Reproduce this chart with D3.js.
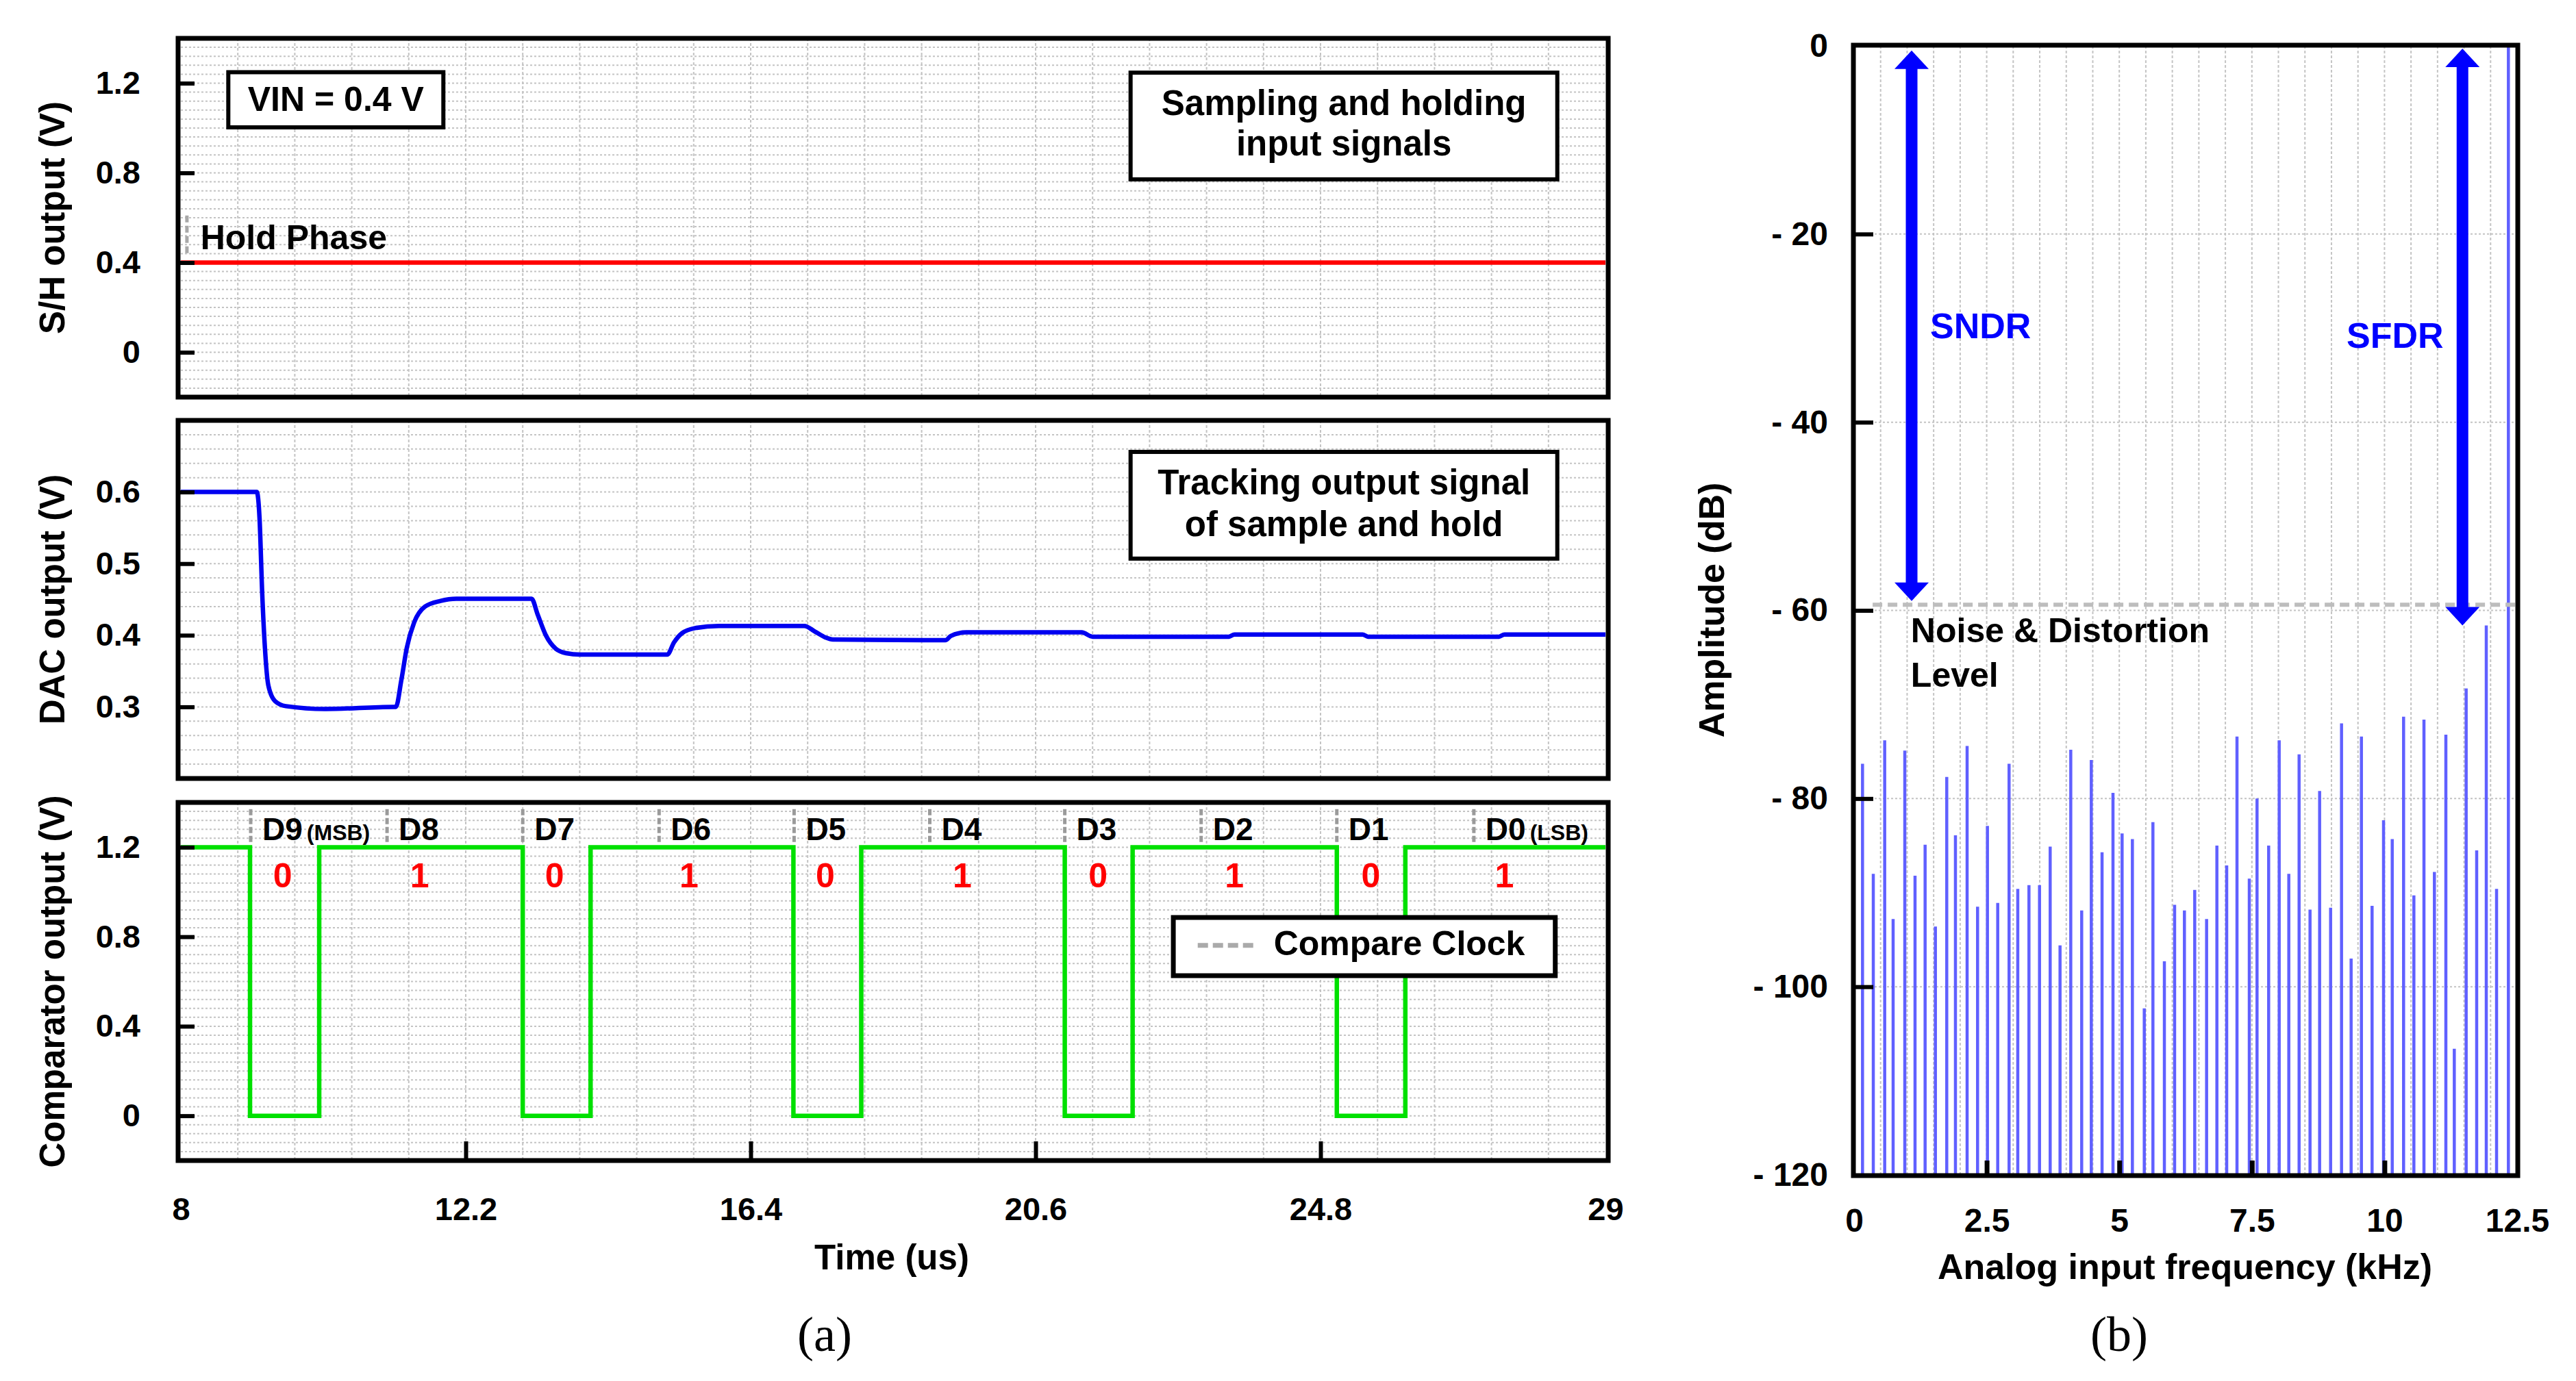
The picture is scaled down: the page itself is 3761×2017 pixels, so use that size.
<!DOCTYPE html>
<html>
<head>
<meta charset="utf-8">
<script src="https://cdn.jsdelivr.net/npm/d3@7"></script>
<style>
  html, body { margin: 0; padding: 0; background: #fff; }
  svg { display: block; }
  text { font-family: 'Liberation Sans', Arial, Helvetica, sans-serif; font-weight: bold; }
</style>
</head>
<body>
<svg id="chart"></svg>
<script>
// ---- data ----
const timeTicks = [8, 12.2, 16.4, 20.6, 24.8, 29]
const shTicks = [0, 0.4, 0.8, 1.2]
const dacTicks = [0.3, 0.4, 0.5, 0.6]
const compTicks = [0, 0.4, 0.8, 1.2]

const shTime = [8, 29]
const shVolt = [0.4, 0.4]

const dacTime = [8, 9.12, 9.16, 9.20, 9.24, 9.29, 9.39, 9.55, 10.13, 11.13,
  11.17, 11.25, 11.33, 11.44, 11.60, 11.83, 12.06, 13.17, 13.26, 13.38,
  13.53, 13.68, 13.88, 15.17, 15.27, 15.39, 15.58, 15.93, 17.19, 17.35,
  17.50, 17.61, 19.27, 19.35, 19.58, 21.28, 21.44, 23.45, 23.53, 25.42,
  25.50, 27.43, 27.51, 29]
const dacVolt = [0.6, 0.6, 0.564, 0.458, 0.382, 0.330, 0.308, 0.301, 0.297, 0.300,
  0.300, 0.337, 0.382, 0.418, 0.440, 0.448, 0.451, 0.451, 0.429, 0.400,
  0.381, 0.375, 0.373, 0.373, 0.390, 0.403, 0.410, 0.413, 0.413, 0.405,
  0.397, 0.394, 0.393, 0.399, 0.404, 0.404, 0.398, 0.398, 0.401, 0.401,
  0.398, 0.398, 0.401, 0.401]

const compTime = [8, 9.02, 10.04, 13.04, 14.04, 17.03, 18.03, 21.03, 22.03, 25.04, 26.05, 29]
const compVolt = [1.2, 0, 1.2, 0, 1.2, 0, 1.2, 0, 1.2, 0, 1.2, 1.2]

const bitNames = ['D9', 'D8', 'D7', 'D6', 'D5', 'D4', 'D3', 'D2', 'D1', 'D0']
const bitNotes = ['(MSB)', '', '', '', '', '', '', '', '', '(LSB)']
const bitMarkTime = [9.03, 11.04, 13.04, 15.05, 17.04, 19.04, 21.03, 23.04, 25.04, 27.06]
const bitValues = [0, 1, 0, 1, 0, 1, 0, 1, 0, 1]
const bitValueTime = [9.5, 11.52, 13.51, 15.49, 17.5, 19.52, 21.52, 23.53, 25.54, 27.51]

const freqTicks = [0, 2.5, 5, 7.5, 10, 12.5]
const ampTicks = [0, -20, -40, -60, -80, -100, -120]

const fftFreq = [0.159, 0.362, 0.577, 0.736, 0.956, 1.149, 1.339, 1.533, 1.747, 1.911,
  2.131, 2.328, 2.514, 2.708, 2.922, 3.086, 3.297, 3.496, 3.697, 3.883,
  4.085, 4.291, 4.472, 4.675, 4.881, 5.053, 5.247, 5.471, 5.634, 5.850,
  6.043, 6.228, 6.422, 6.646, 6.840, 7.025, 7.219, 7.451, 7.597, 7.816,
  8.015, 8.196, 8.390, 8.596, 8.777, 8.984, 9.190, 9.371, 9.565, 9.766,
  9.982, 10.146, 10.360, 10.554, 10.744, 10.941, 11.157, 11.316, 11.540, 11.738,
  11.919, 12.113, 12.336]
const fftAmp = [-76.3, -88.0, -73.8, -92.8, -74.9, -88.2, -84.9, -93.6, -77.7, -83.9,
  -74.4, -91.5, -82.9, -91.1, -76.3, -89.6, -89.2, -89.2, -85.1, -95.6,
  -74.8, -91.9, -75.9, -85.7, -79.4, -83.7, -84.3, -102.3, -82.5, -97.3,
  -91.3, -91.9, -89.7, -92.8, -85.0, -87.1, -73.4, -88.5, -80.0, -85.0,
  -73.8, -88.0, -75.3, -91.8, -79.2, -91.6, -72.0, -97.0, -73.4, -91.4,
  -82.3, -84.3, -71.3, -90.3, -71.6, -87.8, -73.2, -106.6, -68.3, -85.5,
  -61.6, -89.6, 0]

const noiseLevel = -59.4
const sndrArrow = { f: 1.085, top: -0.5, bottom: -59.0 }
const sfdrArrow = { f: 11.47, top: -0.3, bottom: -61.6 }

// ---- setup ----
const svg = d3.select('#chart').attr('width', 3761).attr('height', 2017)
svg.append('rect').attr('width', 3761).attr('height', 2017).attr('fill', '#fff')

const gridColor = '#c4c4c4'
const x = d3.scaleLinear().domain([8, 29]).range([264, 2344])

const panels = [
  { key: 'sh', domain: [-0.2, 1.4], range: [580, 56], ticks: shTicks, step: 0.04, title: 'S/H output (V)' },
  { key: 'dac', domain: [0.2, 0.7], range: [1137, 614], ticks: dacTicks, step: 0.02, title: 'DAC output (V)' },
  { key: 'comp', domain: [-0.2, 1.4], range: [1695, 1172], ticks: compTicks, step: 0.04, title: 'Comparator output (V)' },
]
panels.forEach(p => { p.y = d3.scaleLinear().domain(p.domain).range(p.range) })

const fmtV = d => d === 0 ? '0' : d3.format('.1f')(d)

const drawGrid = (g, xs, ys, x0, x1, y0, y1) => {
  g.selectAll('line.vg').data(xs).enter().append('line')
    .attr('class', 'vg')
    .attr('x1', d => d).attr('x2', d => d).attr('y1', y0).attr('y2', y1)
    .attr('stroke', gridColor).attr('stroke-width', 2).attr('stroke-dasharray', '4,3')
  g.selectAll('line.hg').data(ys).enter().append('line')
    .attr('class', 'hg')
    .attr('y1', d => d).attr('y2', d => d).attr('x1', x0).attr('x2', x1)
    .attr('stroke', gridColor).attr('stroke-width', 2).attr('stroke-dasharray', '3,3')
}

panels.forEach(p => {
  const g = svg.append('g').attr('class', `panel-${p.key}`)
  const vx = d3.range(8.84, 28.99, 0.84).map(x)
  const hy = d3.range(p.domain[0] + p.step, p.domain[1] - 1e-6, p.step).map(p.y)
  drawGrid(g, vx, hy, x(8), x(29), p.range[1], p.range[0])
  p.g = g
})

const [shP, dacP, compP] = panels

// S/H output
shP.g.append('path')
  .attr('d', d3.line().x((d, i) => x(shTime[i])).y(d => shP.y(d))(shVolt))
  .attr('fill', 'none').attr('stroke', '#ff0000').attr('stroke-width', 6.5)

// DAC output
dacP.g.append('path')
  .attr('d', d3.line().curve(d3.curveMonotoneX).x((d, i) => x(dacTime[i])).y(d => dacP.y(d))(dacVolt))
  .attr('fill', 'none').attr('stroke', '#0000f0').attr('stroke-width', 6.5).attr('stroke-linejoin', 'round')

// comparator output
compP.g.append('path')
  .attr('d', d3.line().curve(d3.curveStepAfter).x((d, i) => x(compTime[i])).y(d => compP.y(d))(compVolt))
  .attr('fill', 'none').attr('stroke', '#00e000').attr('stroke-width', 6.5)

// bit markers + labels
const bits = compP.g.append('g').attr('class', 'bits')
bits.selectAll('line').data(bitMarkTime).enter().append('line')
  .attr('x1', d => x(d)).attr('x2', d => x(d))
  .attr('y1', compP.y(1.37)).attr('y2', compP.y(1.22))
  .attr('stroke', '#9a9a9a').attr('stroke-width', 5).attr('stroke-dasharray', '9,4')
const bitLabel = bits.selectAll('text.bn').data(bitNames).enter().append('text')
  .attr('class', 'bn')
  .attr('x', (d, i) => x(bitMarkTime[i]) + 17)
  .attr('y', compP.y(1.232))
  .attr('font-size', 46)
  .text(d => d)
bitLabel.append('tspan')
  .attr('font-size', 32).attr('dx', 6)
  .text((d, i) => bitNotes[i])
bits.selectAll('text.bv').data(bitValues).enter().append('text')
  .attr('class', 'bv')
  .attr('x', (d, i) => x(bitValueTime[i]))
  .attr('y', compP.y(1.02))
  .attr('text-anchor', 'middle')
  .attr('font-size', 50).attr('fill', '#ff0000')
  .text(d => d)

// annotation boxes
const box = (g, p, t0, t1, v0, v1, lines, baselines, size) => {
  g.append('rect')
    .attr('x', x(t0)).attr('y', p.y(v0))
    .attr('width', x(t1) - x(t0)).attr('height', p.y(v1) - p.y(v0))
    .attr('fill', '#fff').attr('stroke', '#000').attr('stroke-width', 6)
  lines.forEach((l, i) => {
    g.append('text')
      .attr('x', x((t0 + t1) / 2)).attr('y', p.y(baselines[i]))
      .attr('text-anchor', 'middle').attr('font-size', size)
      .text(l)
  })
}
box(shP.g, shP, 8.70, 11.87, 1.249, 1.003, ['VIN = 0.4 V'], [1.076], 50)
box(shP.g, shP, 22.0, 28.29, 1.247, 0.771, ['Sampling and holding', 'input signals'], [1.059, 0.878], 51)
box(dacP.g, dacP, 22.0, 28.29, 0.656, 0.507, ['Tracking output signal', 'of sample and hold'], [0.597, 0.538], 51)

// hold phase
shP.g.append('line')
  .attr('x1', x(8.09)).attr('x2', x(8.09))
  .attr('y1', shP.y(0.61)).attr('y2', shP.y(0.43))
  .attr('stroke', '#a8a8a8').attr('stroke-width', 5).attr('stroke-dasharray', '10,5')
shP.g.append('text')
  .attr('x', x(8.29)).attr('y', shP.y(0.46))
  .attr('font-size', 50)
  .text('Hold Phase')

// compare clock legend
const leg = compP.g.append('g').attr('class', 'legend')
leg.append('rect')
  .attr('x', x(22.63)).attr('y', compP.y(0.886))
  .attr('width', x(28.26) - x(22.63)).attr('height', compP.y(0.626) - compP.y(0.886))
  .attr('fill', '#fff').attr('stroke', '#000').attr('stroke-width', 7)
leg.append('line')
  .attr('x1', x(22.99)).attr('x2', x(23.87))
  .attr('y1', compP.y(0.761)).attr('y2', compP.y(0.761))
  .attr('stroke', '#aaaaaa').attr('stroke-width', 7).attr('stroke-dasharray', '15,7')
leg.append('text')
  .attr('x', x(24.11)).attr('y', compP.y(0.718))
  .attr('font-size', 50)
  .text('Compare Clock')

// frames, y axes, titles
panels.forEach(p => {
  p.g.append('rect')
    .attr('x', 260).attr('y', p.range[1])
    .attr('width', 2348 - 260).attr('height', p.range[0] - p.range[1])
    .attr('fill', 'none').attr('stroke', '#000').attr('stroke-width', 7)

  const ax = p.g.append('g')
    .attr('transform', 'translate(260,0)')
    .call(d3.axisLeft(p.y).tickValues(p.ticks).tickFormat(fmtV).tickSize(-24).tickPadding(55))
  ax.select('.domain').remove()
  ax.selectAll('.tick line').attr('stroke', '#000').attr('stroke-width', 6)
  ax.selectAll('.tick text')
    .attr('font-family', null).attr('font-size', 47).attr('fill', '#000')

  p.g.append('text')
    .attr('transform', `translate(94,${(p.range[0] + p.range[1]) / 2}) rotate(-90)`)
    .attr('text-anchor', 'middle').attr('font-size', 51)
    .text(p.title)
})

// shared time axis
const tAx = svg.append('g')
  .attr('transform', `translate(0,${compP.range[0]})`)
  .call(d3.axisBottom(x).tickValues(timeTicks).tickFormat(d => d).tickSize(-28).tickPadding(54))
tAx.select('.domain').remove()
tAx.selectAll('.tick line').attr('stroke', '#000').attr('stroke-width', 6)
tAx.selectAll('.tick')
  .filter(d => d === 8 || d === 29)
  .select('line').remove()
tAx.selectAll('.tick text').attr('font-family', null).attr('font-size', 47).attr('fill', '#000')

svg.append('text')
  .attr('x', 1302).attr('y', 1854)
  .attr('text-anchor', 'middle').attr('font-size', 51)
  .text('Time (us)')

// ---- panel (b) ----
const xf = d3.scaleLinear().domain([0, 12.5]).range([2707, 3675])
const yf = d3.scaleLinear().domain([-120, 0]).range([1716, 67])
const gb = svg.append('g').attr('class', 'panel-fft')

drawGrid(gb, d3.range(0.5, 12.49, 0.5).map(xf), [-20, -40, -60, -80, -100].map(yf), xf(0), xf(12.5), yf(0), yf(-120))

gb.append('g').attr('class', 'bars')
  .selectAll('line').data(fftAmp).enter().append('line')
  .attr('x1', (d, i) => xf(fftFreq[i])).attr('x2', (d, i) => xf(fftFreq[i]))
  .attr('y1', yf(-120)).attr('y2', d => yf(d))
  .attr('stroke', '#6060ff').attr('stroke-width', 4.5)

gb.append('line')
  .attr('x1', xf(0.35)).attr('x2', xf(12.5))
  .attr('y1', yf(noiseLevel)).attr('y2', yf(noiseLevel))
  .attr('stroke', '#bdbdbd').attr('stroke-width', 6).attr('stroke-dasharray', '14,8')

const arrow = (a) => {
  const cx = xf(a.f), yt = yf(a.top), yb = yf(a.bottom)
  const hl = 27, hw = 25
  const g = gb.append('g').attr('fill', '#0000ff')
  g.append('line')
    .attr('x1', cx).attr('x2', cx).attr('y1', yt + hl - 2).attr('y2', yb - hl + 2)
    .attr('stroke', '#0000ff').attr('stroke-width', 17)
  g.append('path').attr('d', `M${cx},${yt} L${cx + hw},${yt + hl} L${cx - hw},${yt + hl} Z`)
  g.append('path').attr('d', `M${cx},${yb} L${cx + hw},${yb - hl} L${cx - hw},${yb - hl} Z`)
}
arrow(sndrArrow)
arrow(sfdrArrow)

gb.append('text').attr('x', xf(1.433)).attr('y', yf(-31.1))
  .attr('font-size', 52).attr('fill', '#0000ff').text('SNDR')
gb.append('text').attr('x', xf(9.285)).attr('y', yf(-32.1))
  .attr('font-size', 52).attr('fill', '#0000ff').text('SFDR')
gb.append('text').attr('x', xf(1.07)).attr('y', yf(-63.4))
  .attr('font-size', 50).text('Noise & Distortion')
gb.append('text').attr('x', xf(1.07)).attr('y', yf(-68.1))
  .attr('font-size', 50).text('Level')

gb.append('rect')
  .attr('x', 2706).attr('y', 66).attr('width', 3676 - 2706).attr('height', 1717 - 66)
  .attr('fill', 'none').attr('stroke', '#000').attr('stroke-width', 7)

const fyAx = gb.append('g')
  .attr('transform', 'translate(2706,0)')
  .call(d3.axisLeft(yf).tickValues(ampTicks).tickFormat(d => d === 0 ? '0' : '- ' + Math.abs(d)).tickSize(-29).tickPadding(37))
fyAx.select('.domain').remove()
fyAx.selectAll('.tick line').attr('stroke', '#000').attr('stroke-width', 6)
fyAx.selectAll('.tick').filter(d => d === 0 || d === -120).select('line').remove()
fyAx.selectAll('.tick text').attr('font-family', null).attr('font-size', 48).attr('fill', '#000')

const fxAx = gb.append('g')
  .attr('transform', 'translate(0,1716)')
  .call(d3.axisBottom(xf).tickValues(freqTicks).tickFormat(d => d).tickSize(-21).tickPadding(49))
fxAx.select('.domain').remove()
fxAx.selectAll('.tick line').attr('stroke', '#000').attr('stroke-width', 7)
fxAx.selectAll('.tick').filter(d => d === 0 || d === 12.5).select('line').remove()
fxAx.selectAll('.tick text').attr('font-family', null).attr('font-size', 48).attr('fill', '#000')

gb.append('text')
  .attr('transform', 'translate(2517,891) rotate(-90)')
  .attr('text-anchor', 'middle').attr('font-size', 52)
  .text('Amplitude (dB)')
gb.append('text')
  .attr('x', 3190).attr('y', 1868)
  .attr('text-anchor', 'middle').attr('font-size', 52)
  .text('Analog input frequency (kHz)')

// sub-figure captions
svg.append('text').attr('x', 1204).attr('y', 1973)
  .attr('text-anchor', 'middle').attr('font-size', 72)
  .style('font-family', "'Liberation Serif', 'Times New Roman', serif").style('font-weight', 'normal')
  .text('(a)')
svg.append('text').attr('x', 3094).attr('y', 1973)
  .attr('text-anchor', 'middle').attr('font-size', 72)
  .style('font-family', "'Liberation Serif', 'Times New Roman', serif").style('font-weight', 'normal')
  .text('(b)')
</script>
</body>
</html>
